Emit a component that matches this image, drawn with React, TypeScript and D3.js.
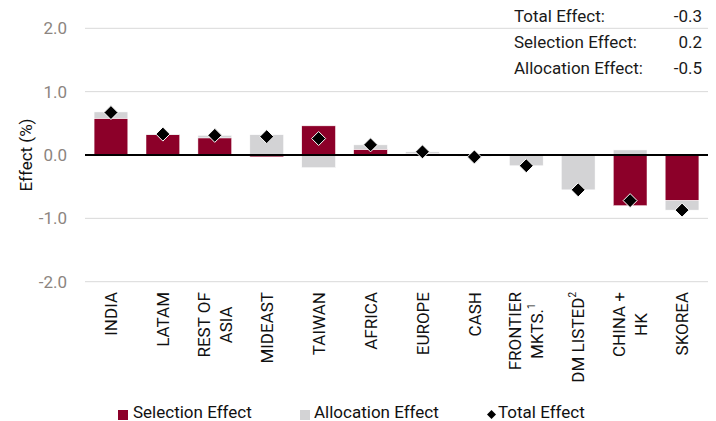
import React from "react";
import * as d3 from "d3";

const categories = [
  "INDIA",
  "LATAM",
  "REST OF ASIA",
  "MIDEAST",
  "TAIWAN",
  "AFRICA",
  "EUROPE",
  "CASH",
  "FRONTIER MKTS.",
  "DM LISTED",
  "CHINA + HK",
  "SKOREA",
];
const labelLines: string[][] = [
  ["INDIA"],
  ["LATAM"],
  ["REST OF", "ASIA"],
  ["MIDEAST"],
  ["TAIWAN"],
  ["AFRICA"],
  ["EUROPE"],
  ["CASH"],
  ["FRONTIER", "MKTS.|1"],
  ["DM LISTED|2"],
  ["CHINA +", "HK"],
  ["SKOREA"],
];
const selection = [0.58, 0.32, 0.27, -0.03, 0.46, 0.09, 0.02, 0.0, 0.0, 0.0, -0.8, -0.72];
const allocation = [0.1, 0.01, 0.04, 0.32, -0.2, 0.07, 0.03, -0.02, -0.17, -0.55, 0.08, -0.15];
const total = [0.67, 0.33, 0.31, 0.29, 0.26, 0.16, 0.05, -0.03, -0.17, -0.55, -0.72, -0.87];
const yTicks = [2, 1, 0, -1, -2];
const summaryLabels = ["Total Effect:", "Selection Effect:", "Allocation Effect:"];
const summaryValues = ["-0.3", "0.2", "-0.5"];

const W = 716;
const H = 421;
const CRIMSON = "#8c0029";
const GREY = "#d3d3d5";
const FONT = "Roboto, 'DejaVu Sans', sans-serif";
const FS = 17;

let ctx: CanvasRenderingContext2D | null = null;
function measure(s: string, size: number) {
  if (!ctx && typeof document !== "undefined") {
    ctx = document.createElement("canvas").getContext("2d");
  }
  if (!ctx) return s.length * size * 0.6;
  ctx.font = `${size}px Roboto`;
  return ctx.measureText(s).width;
}
function lineWidth(ln: string) {
  const [main, sup] = ln.split("|");
  return measure(main, FS) + (sup ? measure(sup, 10) : 0);
}

export default function App() {
  const x = d3
    .scaleBand<string>()
    .domain(categories)
    .range([85, 708])
    .paddingInner(0.35)
    .paddingOuter(0.175);
  const y = d3.scaleLinear().domain([-2, 2]).range([281.7, 28.3]);

  const rows = categories.map((c, i) => ({ c, selection: selection[i], allocation: allocation[i] }));
  const stack = d3
    .stack<any>()
    .keys(["selection", "allocation"])
    .offset(d3.stackOffsetDiverging);
  const series = stack(rows);
  const colors = [CRIMSON, GREY];

  const diamond = (cx: number, cy: number, r: number) =>
    `M${cx},${cy - r}L${cx + r},${cy}L${cx},${cy + r}L${cx - r},${cy}Z`;

  return (
    <svg
      width={W}
      height={H}
      style={{ position: "absolute", left: 0, top: 0, fontFamily: FONT }}
    >
      <rect width={W} height={H} fill="#fff" />
      {yTicks.map((t) => (
        <g key={t}>
          {t !== 0 && (
            <line x1={85} x2={708} y1={y(t)} y2={y(t)} stroke="#d9d9d9" strokeWidth={1} />
          )}
          <text
            x={67}
            y={y(t)}
            dy="0.36em"
            textAnchor="end"
            fontSize={FS}
            fill="#8c8580"
          >
            {t.toFixed(1)}
          </text>
        </g>
      ))}
      <text
        transform={`translate(26,${y(0)}) rotate(-90)`}
        textAnchor="middle"
        dy="0.36em"
        fontSize={FS}
        fill="#111"
      >
        Effect (%)
      </text>

      {series.map((s, si) =>
        s.map((d, i) => {
          const y0 = y(d[0]);
          const y1 = y(d[1]);
          const h = Math.abs(y0 - y1);
          if (h < 0.01) return null;
          return (
            <rect
              key={`${si}-${i}`}
              x={x(categories[i])}
              width={x.bandwidth()}
              y={Math.min(y0, y1)}
              height={h}
              fill={colors[si]}
              stroke="#fff"
              strokeWidth={0.5}
            />
          );
        })
      )}

      <line x1={85} x2={708} y1={y(0)} y2={y(0)} stroke="#000" strokeWidth={2} />

      {total.map((v, i) => (
        <path
          key={i}
          d={diamond((x(categories[i]) as number) + x.bandwidth() / 2, y(v), 7)}
          fill="#000"
          stroke="#fff"
          strokeWidth={1}
        />
      ))}

      {labelLines.map((lines, i) => {
        const cx = (x(categories[i]) as number) + x.bandwidth() / 2;
        const lh = 22;
        const n = lines.length;
        const maxW = Math.max(...lines.map(lineWidth));
        const midY = 292 + maxW / 2;
        return lines.map((ln, li) => {
          const off = (li - (n - 1) / 2) * lh;
          const [main, sup] = ln.split("|");
          return (
            <text
              key={`${i}-${li}`}
              transform={`translate(${cx + off},${midY}) rotate(-90)`}
              textAnchor="middle"
              dy="0.36em"
              fontSize={FS}
              fill="#111"
            >
              {main}
              {sup && (
                <tspan fontSize={10} dy="-0.8em">
                  {sup}
                </tspan>
              )}
            </text>
          );
        });
      })}

      {summaryLabels.map((l, i) => (
        <g key={l}>
          <text x={514} y={22 + i * 26} fontSize={FS} fill="#1a1a1a">
            {l}
          </text>
          <text x={702} y={22 + i * 26} fontSize={FS} fill="#1a1a1a" textAnchor="end">
            {summaryValues[i]}
          </text>
        </g>
      ))}

      <rect x={118} y={410} width={10} height={10} fill={CRIMSON} />
      <text x={133} y={418} fontSize={FS} fill="#111">
        Selection Effect
      </text>
      <rect x={300} y={410} width={10} height={10} fill={GREY} />
      <text x={314} y={418} fontSize={FS} fill="#111">
        Allocation Effect
      </text>
      <path d={diamond(491.5, 414.5, 4.5)} fill="#000" />
      <text x={498} y={418} fontSize={FS} fill="#111">
        Total Effect
      </text>
    </svg>
  );
}
